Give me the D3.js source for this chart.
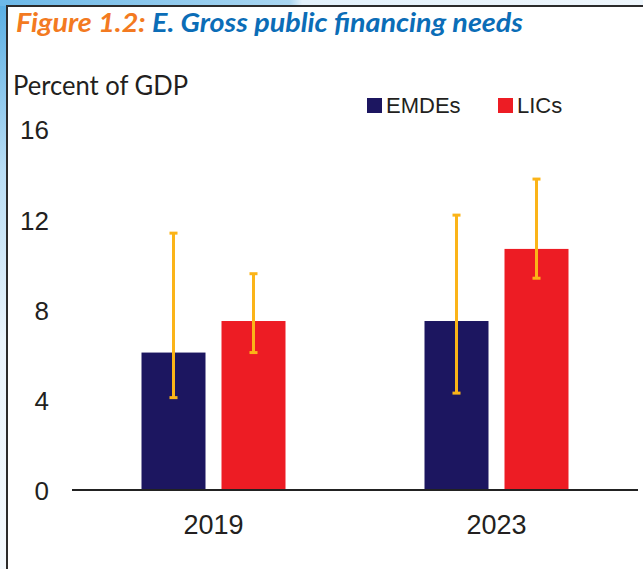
<!DOCTYPE html>
<html>
<head>
<meta charset="utf-8">
<script src="https://cdn.jsdelivr.net/npm/d3@7"></script>
<style>
  html, body { margin: 0; padding: 0; background: #fff; }
  svg { display: block; }
</style>
</head>
<body>
<div id="chart"></div>
<script>
// Gross public financing needs, percent of GDP
const years = ["2019", "2023"];
const seriesNames = ["EMDEs", "LICs"];
const emdeValues = [6.1, 7.5];
const licValues = [7.5, 10.7];
const emdeLow = [4.1, 4.3];
const emdeHigh = [11.4, 12.2];
const licLow = [6.1, 9.4];
const licHigh = [9.6, 13.8];
const yTicks = [0, 4, 8, 12, 16];

const colors = { EMDEs: "#1c1660", LICs: "#ed1c24" };
const errColor = "#fbb418";
const inkColor = "#231f20";

const W = 643, H = 569;
const svg = d3.select("#chart").append("svg")
  .attr("width", W).attr("height", H);

// page background behind the framed panel
const defs = svg.append("defs");
const gLeft = defs.append("linearGradient").attr("id", "leftStrip")
  .attr("x1", 0).attr("y1", 0).attr("x2", 0).attr("y2", 1);
gLeft.append("stop").attr("offset", "0").attr("stop-color", "#58aee3");
gLeft.append("stop").attr("offset", "0.3").attr("stop-color", "#b9ddf4");
gLeft.append("stop").attr("offset", "0.6").attr("stop-color", "#eaf4fc");
gLeft.append("stop").attr("offset", "1").attr("stop-color", "#f4f9fd");
const gTop = defs.append("linearGradient").attr("id", "topStrip")
  .attr("x1", 0).attr("y1", 0).attr("x2", 1).attr("y2", 0);
gTop.append("stop").attr("offset", "0").attr("stop-color", "#6cb8e7");
gTop.append("stop").attr("offset", "0.45").attr("stop-color", "#a9d6f1");
gTop.append("stop").attr("offset", "0.47").attr("stop-color", "#e3f1fb");
gTop.append("stop").attr("offset", "1").attr("stop-color", "#eef6fc");

svg.append("rect").attr("x", 0).attr("y", 0).attr("width", W).attr("height", H)
  .attr("fill", "url(#leftStrip)");
svg.append("rect").attr("x", 0).attr("y", 0).attr("width", W).attr("height", 6)
  .attr("fill", "url(#topStrip)");
svg.append("rect").attr("x", 7).attr("y", 6).attr("width", W - 7).attr("height", H - 6)
  .attr("fill", "#ffffff");
// panel frame
svg.append("line").attr("x1", 6).attr("x2", W).attr("y1", 6).attr("y2", 6)
  .attr("stroke", "#2b2b2b").attr("stroke-width", 2);
svg.append("line").attr("x1", 7).attr("x2", 7).attr("y1", 5).attr("y2", H)
  .attr("stroke", "#2b2b2b").attr("stroke-width", 2);

// title
const title = svg.append("text")
  .attr("x", 16).attr("y", 32)
  .attr("font-family", "Lato, 'Open Sans', sans-serif")
  .attr("font-weight", "bold").attr("font-style", "italic")
  .attr("font-size", 26.5)
  .attr("textLength", 507).attr("lengthAdjust", "spacingAndGlyphs");
title.append("tspan").attr("fill", "#f37a21").text("Figure 1.2: ");
title.append("tspan").attr("fill", "#0b6db7").text("E. Gross public financing needs");

// unit label
svg.append("text")
  .attr("x", 13).attr("y", 95)
  .attr("font-family", "Lato, 'Open Sans', sans-serif")
  .attr("font-size", 26).attr("fill", inkColor)
  .attr("textLength", 175).attr("lengthAdjust", "spacingAndGlyphs")
  .text("Percent of GDP");

// scales
const plotLeft = 72, plotRight = 638;
const y = d3.scaleLinear().domain([0, 16]).range([490, 129.5]);
const x0 = d3.scaleBand().domain(years).range([plotLeft, plotRight]).padding(0);
const groupW = 144;
const x1 = d3.scaleBand().domain(seriesNames)
  .range([x0.bandwidth() / 2 - groupW / 2, x0.bandwidth() / 2 + groupW / 2])
  .paddingInner(0.2).paddingOuter(0);

// y axis labels (no axis line or ticks)
const yAxis = d3.axisLeft(y).tickValues(yTicks).tickSize(0).tickPadding(0);
const yg = svg.append("g").attr("transform", "translate(49,0)").call(yAxis);
yg.select(".domain").remove();
yg.selectAll("text")
  .attr("font-family", "'Liberation Sans', Arial, sans-serif")
  .attr("font-size", 26).attr("fill", inkColor).attr("dy", "0.36em");

// bars
const rows = years.map((yr, i) => ({
  year: yr,
  items: [
    { key: "EMDEs", value: emdeValues[i], lo: emdeLow[i], hi: emdeHigh[i] },
    { key: "LICs", value: licValues[i], lo: licLow[i], hi: licHigh[i] }
  ]
}));

const groups = svg.append("g").selectAll("g").data(rows).join("g")
  .attr("transform", d => `translate(${x0(d.year)},0)`);

groups.selectAll("rect").data(d => d.items).join("rect")
  .attr("x", d => x1(d.key))
  .attr("width", x1.bandwidth())
  .attr("y", d => y(d.value))
  .attr("height", d => y(0) - y(d.value))
  .attr("fill", d => colors[d.key]);

// x axis baseline and year labels
const xAxis = d3.axisBottom(x0).tickSize(0).tickPadding(0);
const xg = svg.append("g").attr("transform", `translate(0,${y(0)})`).call(xAxis);
xg.select(".domain").attr("stroke", "#222").attr("stroke-width", 2)
  .attr("d", `M${plotLeft},0H${plotRight}`);
xg.selectAll("text")
  .attr("font-family", "'Liberation Sans', Arial, sans-serif")
  .attr("font-size", 27).attr("fill", inkColor)
  .attr("dy", 0).attr("y", 44);

// error bars
const capW = 8;
const err = groups.selectAll("g.err").data(d => d.items).join("g").attr("class", "err")
  .attr("stroke", errColor);
err.append("line")
  .attr("x1", d => x1(d.key) + x1.bandwidth() / 2)
  .attr("x2", d => x1(d.key) + x1.bandwidth() / 2)
  .attr("y1", d => y(d.hi)).attr("y2", d => y(d.lo))
  .attr("stroke-width", 3);
err.selectAll("line.cap").data(d => [{ k: d.key, v: d.hi }, { k: d.key, v: d.lo }])
  .join("line").attr("class", "cap")
  .attr("x1", d => x1(d.k) + x1.bandwidth() / 2 - capW / 2)
  .attr("x2", d => x1(d.k) + x1.bandwidth() / 2 + capW / 2)
  .attr("y1", d => y(d.v)).attr("y2", d => y(d.v))
  .attr("stroke-width", 3);

// legend
const legendX = [367, 498];
const legend = svg.append("g").selectAll("g").data(seriesNames).join("g")
  .attr("transform", (d, i) => `translate(${legendX[i]},98)`);
legend.append("rect").attr("width", 15).attr("height", 15)
  .attr("fill", d => colors[d]);
legend.append("text").attr("x", 19).attr("y", 15)
  .attr("font-family", "'Liberation Sans', Arial, sans-serif")
  .attr("font-size", 22).attr("fill", inkColor)
  .text(d => d);
</script>
</body>
</html>
